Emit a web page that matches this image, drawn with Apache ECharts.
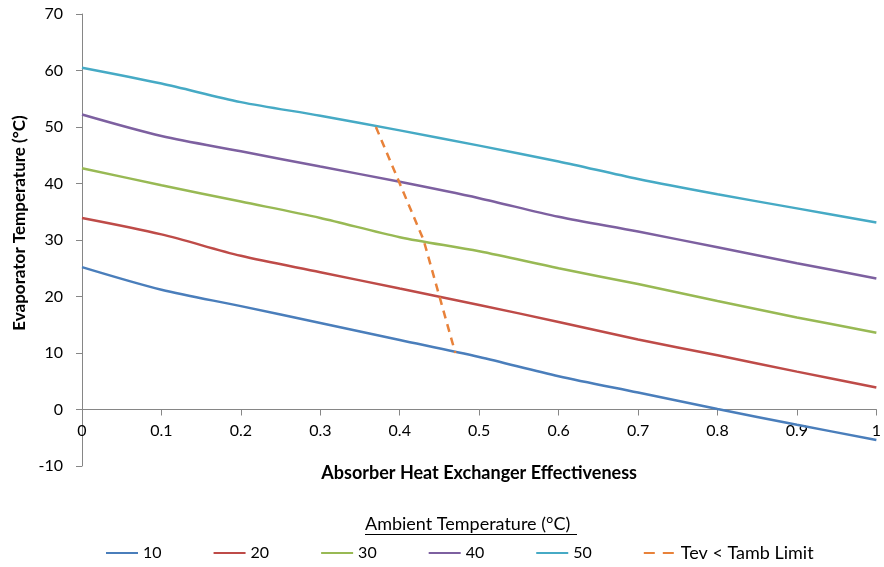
<!DOCTYPE html>
<html>
<head>
<meta charset="utf-8">
<script src="https://cdn.jsdelivr.net/npm/echarts@6/dist/echarts.min.js"></script>
<style>
  html, body { margin: 0; padding: 0; background: #fff; }
  #chart1 { width: 884px; height: 567px; }
</style>
</head>
<body>
<div id="chart1"></div>
<script>
// effectiveness values (x axis)
var effectiveness = [0, 0.1, 0.2, 0.3, 0.4, 0.5, 0.6, 0.7, 0.8, 0.9, 1];

// evaporator temperature for each ambient temperature
var t10 = [25.2, 21.2, 18.3, 15.3, 12.3, 9.3, 5.9, 3.0, 0.1, -2.7, -5.4];
var t20 = [33.9, 31.0, 27.2, 24.3, 21.4, 18.5, 15.5, 12.4, 9.6, 6.7, 3.9];
var t30 = [42.7, 39.7, 36.8, 33.9, 30.5, 28.0, 25.0, 22.2, 19.2, 16.3, 13.6];
var t40 = [52.2, 48.4, 45.7, 43.0, 40.3, 37.4, 34.1, 31.5, 28.7, 25.9, 23.2];
var t50 = [60.5, 57.7, 54.4, 52.0, 49.4, 46.7, 43.9, 40.8, 38.1, 35.6, 33.1];

// limit line (Tev < Tamb)
var limitX = [0.37, 0.40, 0.43, 0.45, 0.47];
var limitY = [50, 40, 30, 20, 10];

var seriesNames = ['10', '20', '30', '40', '50', 'Tev < Tamb Limit'];
var colors = ['#4A7EBB', '#BE4B48', '#98B954', '#7D60A0', '#46AAC5', '#E8823A'];

function pairs(xs, ys) {
    return xs.map(function (x, i) { return [x, ys[i]]; });
}

var lines = [t10, t20, t30, t40, t50];
var series = lines.map(function (vals, i) {
    return {
        name: seriesNames[i],
        type: 'line',
        smooth: 0.3,
        symbol: 'none',
        data: pairs(effectiveness, vals),
        lineStyle: { color: colors[i], width: 2.5 },
        itemStyle: { color: colors[i] }
    };
});
series.push({
    name: seriesNames[5],
    type: 'line',
    symbol: 'none',
    data: pairs(limitX, limitY),
    lineStyle: { color: colors[5], width: 2.5, type: [8, 6] },
    itemStyle: { color: colors[5] }
});

var legendData = seriesNames.map(function (n, i) {
    if (i === 5) return { name: n, lineStyle: { type: [11, 8] } };
    return { name: n };
});

var font = 'Lato, "Open Sans", sans-serif';
var myChart = echarts.init(document.getElementById('chart1'));

// the x axis sits on y = 0: 10 units above the bottom of an 80-unit range
var plotH = 567 - 14 - 101;

myChart.setOption({
    animation: false,
    textStyle: { fontFamily: font },
    grid: { left: 82, right: 4, top: 14, bottom: 101 },
    legend: {
        data: legendData,
        left: 100,
        top: 539,
        itemWidth: 32,
        itemHeight: 14,
        itemGap: 51,
        itemStyle: { opacity: 0 },
        formatter: function (name) {
            return name.length > 2 ? '{w|' + name + '}' : name;
        },
        textStyle: {
            fontSize: 16, color: '#000', fontFamily: font,
            rich: { w: { fontSize: 18, color: '#000', fontFamily: font } }
        }
    },
    graphic: [
        {
            type: 'text',
            left: 365,
            top: 515,
            style: { text: 'Ambient Temperature (°C)', fontSize: 18, fill: '#000', fontFamily: font }
        },
        {
            type: 'rect',
            left: 365,
            top: 534,
            shape: { width: 212, height: 1 },
            style: { fill: '#000' }
        }
    ],
    xAxis: {
        type: 'value',
        min: 0,
        max: 1,
        interval: 0.1,
        offset: -plotH * 10 / 80,
        name: 'Absorber Heat Exchanger Effectiveness',
        nameLocation: 'middle',
        nameGap: 55,
        nameTextStyle: { fontSize: 18, fontWeight: 'bold', color: '#000' },
        axisLine: { onZero: false, lineStyle: { color: '#868686', width: 1 } },
        axisTick: { show: true, length: 6, lineStyle: { color: '#868686' } },
        axisLabel: { fontSize: 16, color: '#000', margin: 13 },
        splitLine: { show: false }
    },
    yAxis: {
        type: 'value',
        min: -10,
        max: 70,
        interval: 10,
        name: 'Evaporator Temperature (°C)',
        nameLocation: 'middle',
        nameGap: 50,
        nameTextStyle: { fontSize: 17, fontWeight: 'bold', color: '#000', padding: [0, 0, 0, 34] },
        axisLine: { show: true, onZero: false, lineStyle: { color: '#868686', width: 1 } },
        axisTick: { show: true, length: 6, lineStyle: { color: '#868686' } },
        axisLabel: { fontSize: 16, color: '#000', margin: 19 },
        splitLine: { show: false }
    },
    series: series
});
</script>
</body>
</html>
